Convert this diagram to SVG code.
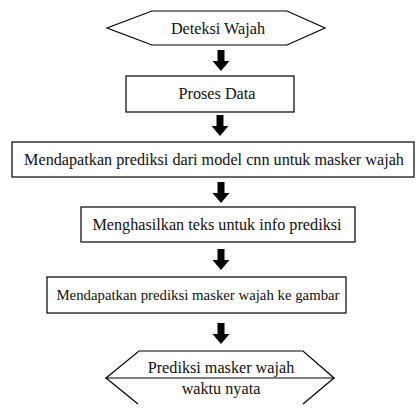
<svg xmlns="http://www.w3.org/2000/svg" width="416" height="417" viewBox="0 0 416 417">
<style>
.s{fill:#fff;stroke:#000;stroke-width:1.2}
.t{font-family:'Liberation Serif','Times New Roman',serif;font-size:16.2px;fill:#111;text-anchor:middle}
.sm{font-size:14.8px}
.a{fill:#000}
</style>
<defs>
<path id="arr" class="a" d="M-3.5,0 H3.5 V11 H8.5 L0,21 L-8.5,11 H-3.5 Z"/>
</defs>
<rect width="416" height="417" fill="#fff"/>
<g id="n1">
<polygon class="s" points="107,28 152,11 287,11 325,28 287,45 152,45"/>
<text class="t" x="218" y="34">Deteksi Wajah</text>
</g>
<g id="n2">
<rect class="s" x="126" y="76" width="168" height="36"/>
<text class="t" x="217" y="99">Proses Data</text>
</g>
<g id="n3">
<rect class="s" x="12" y="142" width="402" height="35"/>
<text class="t" x="214" y="165">Mendapatkan prediksi dari model cnn untuk masker wajah</text>
</g>
<g id="n4">
<rect class="s" x="81" y="207" width="274" height="35"/>
<text class="t" x="217" y="230">Menghasilkan teks untuk info prediksi</text>
</g>
<g id="n5">
<rect class="s" x="47" y="277" width="299" height="36"/>
<text class="t sm" x="198" y="300">Mendapatkan prediksi masker wajah ke gambar</text>
</g>
<g id="n6">
<polygon class="s" points="106,378 139,351 303,351 334,378"/>
<polyline class="s" fill="none" points="106,378 138,404"/>
<polyline class="s" fill="none" points="334,378 303,404"/>
<text class="t" x="221" y="373">Prediksi masker wajah</text>
<text class="t" x="221" y="394">waktu nyata</text>
</g>
<g id="connectors">
<use href="#arr" x="221" y="50"/>
<use href="#arr" x="220" y="115"/>
<use href="#arr" x="221" y="182"/>
<use href="#arr" x="221" y="249"/>
<use href="#arr" x="221" y="323"/>
</g>
</svg>
